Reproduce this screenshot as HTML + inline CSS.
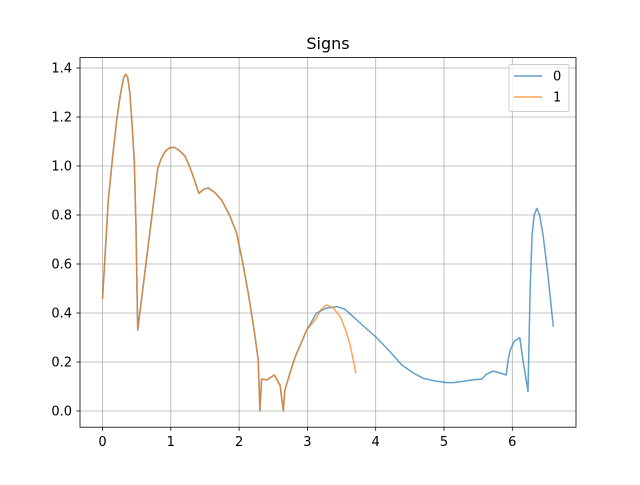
<!DOCTYPE html>
<html><head><meta charset="utf-8"><style>
body{margin:0;background:#fff;font-family:"Liberation Sans","DejaVu Sans",sans-serif;}
svg text{font-family:"DejaVu Sans","Liberation Sans",sans-serif;}
</style></head><body>
<svg id="chart" width="640" height="480" xmlns="http://www.w3.org/2000/svg">
<rect width="640" height="480" fill="#fff"/>
<g id="grid"></g>
<g id="series"></g>
<rect x="80" y="57.6" width="496" height="369.6" fill="none" stroke="#000" stroke-width="0.8"/>
<g id="ticks"></g>
<text x="328" y="49" text-anchor="middle" font-size="16">Signs</text>
<g>
<rect x="509" y="64.5" width="60" height="47" rx="2" fill="#fff" fill-opacity="0.8" stroke="#ccc"/>
<line x1="514" y1="76" x2="542" y2="76" stroke="#1f77b4" stroke-opacity="0.7" stroke-width="1.5"/>
<text x="553" y="80.5" font-size="13">0</text>
<line x1="514" y1="97" x2="542" y2="97" stroke="#ff7f0e" stroke-opacity="0.7" stroke-width="1.5"/>
<text x="553" y="101.5" font-size="13">1</text>
</g>
</svg>
<script>
const xTicks=[0,1,2,3,4,5,6];
const yTicks=[0.0,0.2,0.4,0.6,0.8,1.0,1.2,1.4];
const commonX=[0,0.085,0.15,0.21,0.25,0.28,0.31,0.34,0.37,0.40,0.43,0.466,0.49,0.515,0.81,0.86,0.92,0.98,1.05,1.12,1.21,1.28,1.35,1.41,1.48,1.55,1.65,1.745,1.86,1.965,2.05,2.135,2.22,2.28,2.305,2.33,2.41,2.515,2.6,2.647,2.67,2.75,2.82,2.99];
const commonY=[0.457,0.86,1.04,1.19,1.27,1.32,1.36,1.375,1.36,1.30,1.18,1.02,0.75,0.33,0.99,1.03,1.06,1.074,1.076,1.065,1.04,0.995,0.94,0.888,0.905,0.91,0.89,0.86,0.80,0.725,0.61,0.48,0.33,0.21,0.0,0.13,0.127,0.147,0.105,0.0,0.085,0.16,0.22,0.33];
const s0X=[3.135,3.28,3.43,3.55,3.65,3.82,4.01,4.2,4.38,4.55,4.70,4.88,5.04,5.14,5.3,5.45,5.55,5.62,5.72,5.82,5.91,5.94,5.97,6.03,6.11,6.15,6.23,6.26,6.29,6.32,6.36,6.40,6.45,6.52,6.60];
const s0Y=[0.40,0.42,0.426,0.415,0.39,0.347,0.30,0.245,0.188,0.155,0.133,0.122,0.116,0.116,0.122,0.128,0.13,0.15,0.163,0.155,0.147,0.21,0.25,0.285,0.30,0.22,0.08,0.49,0.72,0.80,0.827,0.80,0.72,0.56,0.344];
const s1X=[3.135,3.2,3.28,3.38,3.48,3.56,3.62,3.67,3.71];
const s1Y=[0.38,0.415,0.433,0.42,0.385,0.33,0.276,0.21,0.154];
const ns='http://www.w3.org/2000/svg';
const X=v=>102.5+v*68.3, Y=v=>411-v*245;
const grid=document.getElementById('grid'),ticks=document.getElementById('ticks'),ser=document.getElementById('series');
function mk(t,a,p){const e=document.createElementNS(ns,t);for(const k in a)e.setAttribute(k,a[k]);p.appendChild(e);return e;}
xTicks.forEach(v=>{
 const g=mk('line',{x1:X(v),x2:X(v),y1:57.6,y2:427.2,stroke:'#b0b0b0','stroke-width':0.8},grid);
 
 
 mk('line',{x1:X(v),x2:X(v),y1:427.2,y2:430.7,stroke:'#000','stroke-width':0.8},ticks);
 const t=mk('text',{x:X(v),y:446,'text-anchor':'middle','font-size':13},ticks);t.textContent=String(v);
 
 
});
yTicks.forEach(v=>{
 const g=mk('line',{x1:80,x2:576,y1:Y(v),y2:Y(v),stroke:'#b0b0b0','stroke-width':0.8},grid);
 
 
 mk('line',{x1:76.5,x2:80,y1:Y(v),y2:Y(v),stroke:'#000','stroke-width':0.8},ticks);
 const t=mk('text',{x:72,y:Y(v)+4.5,'text-anchor':'end','font-size':13},ticks);t.textContent=v.toFixed(1);
 
 
});
function pts(xs,ys){return xs.map((x,i)=>X(x).toFixed(1)+','+Y(ys[i]).toFixed(1)).join(' ');}
const l0=mk('polyline',{points:pts(commonX.concat(s0X),commonY.concat(s0Y)),fill:'none',stroke:'#1f77b4','stroke-opacity':0.7,'stroke-width':1.5,'stroke-linejoin':'round'},ser);


const l1=mk('polyline',{points:pts(commonX.concat(s1X),commonY.concat(s1Y)),fill:'none',stroke:'#ff7f0e','stroke-opacity':0.7,'stroke-width':1.5,'stroke-linejoin':'round'},ser);


</script>
</body></html>
